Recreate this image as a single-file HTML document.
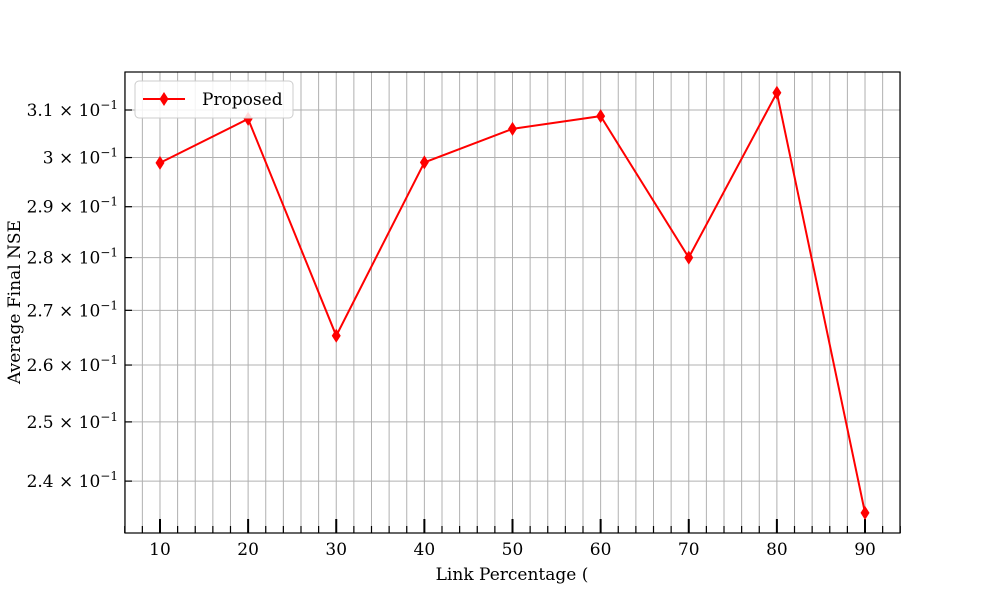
<!DOCTYPE html>
<html><head><meta charset="utf-8"><style>
body{margin:0;background:#fff;}
svg text{font-family:"DejaVu Serif","Liberation Serif",serif;font-size:17px;fill:#000;}
</style></head><body>
<svg id="chart" width="1000" height="600" xmlns="http://www.w3.org/2000/svg">
<g id="grid"></g>
<g id="axes"></g>
<g id="series"></g>
<rect x="125" y="72" width="775" height="461" fill="none" stroke="#000" stroke-width="1.2"/>
<g>
<rect x="135" y="81" width="158" height="37" rx="4" fill="#fff" fill-opacity="0.85" stroke="#ccc"/>
<line x1="143" y1="99" x2="185" y2="99" stroke="red" stroke-width="2"/>
<path d="M164,92 L168.5,99 L164,106 L159.5,99 Z" fill="red"/>
<text x="202" y="105">Proposed</text>
</g>
<text x="512" y="580" text-anchor="middle">Link Percentage (</text>
<text transform="translate(20,302) rotate(-90)" text-anchor="middle">Average Final NSE</text>
</svg>
<script>
const categories=[10,20,30,40,50,60,70,80,90];
const proposedValues=[0.2989,0.3081,0.2653,0.2990,0.3060,0.3087,0.2800,0.3137,0.2348];
const yTicks=[0.24,0.25,0.26,0.27,0.28,0.29,0.30,0.31];
const yTickLabels=["2.4","2.5","2.6","2.7","2.8","2.9","3","3.1"];
const xTicks=[10,20,30,40,50,60,70,80,90];
const NS="http://www.w3.org/2000/svg";
const L=125,R=900,T=72,B=533;
const x=v=>L+(v-6.03)/(93.97-6.03)*(R-L);
const y=v=>110-Math.log(v/0.31)*1450;
function mk(tag,attrs,parent){const e=document.createElementNS(NS,tag);for(const k in attrs)e.setAttribute(k,attrs[k]);parent.appendChild(e);return e;}
const grid=document.getElementById('grid'),axes=document.getElementById('axes'),ser=document.getElementById('series');
for(let v=6;v<=94;v+=2){
  const gx=x(v);
  const g=mk('line',{x1:gx,x2:gx,y1:T,y2:B,stroke:'#b0b0b0','stroke-width':1},grid);
  
  
  const major=v%10===0;
  const t=mk('line',{x1:gx,x2:gx,y1:B,y2:B-(major?14:7),stroke:'#000','stroke-width':major?2:1.2},axes);
  
  
}
xTicks.forEach(v=>{
  const t=mk('text',{x:x(v),y:555,'text-anchor':'middle'},axes);t.textContent=v;
  
  
});
yTicks.forEach((v,i)=>{
  const gy=y(v);
  const g=mk('line',{x1:L,x2:R,y1:gy,y2:gy,stroke:'#b0b0b0','stroke-width':1},grid);
  
  
  const t=mk('line',{x1:L,x2:L+7,y1:gy,y2:gy,stroke:'#000','stroke-width':1.2},axes);
  
  
  const tx=mk('text',{x:118,y:gy+6,'text-anchor':'end'},axes);
  tx.innerHTML=yTickLabels[i]+' × 10<tspan dy="-7" font-size="12">−1</tspan>';
  
  
});
const pts=categories.map((c,i)=>[x(c),y(proposedValues[i])]);
const pl=mk('polyline',{points:pts.map(p=>p.join(',')).join(' '),fill:'none',stroke:'red','stroke-width':2},ser);


pts.forEach(([px,py])=>{
  const m=mk('path',{d:`M${px},${py-7} L${px+4.5},${py} L${px},${py+7} L${px-4.5},${py} Z`,fill:'red'},ser);
  
  
});
</script>
</body></html>
